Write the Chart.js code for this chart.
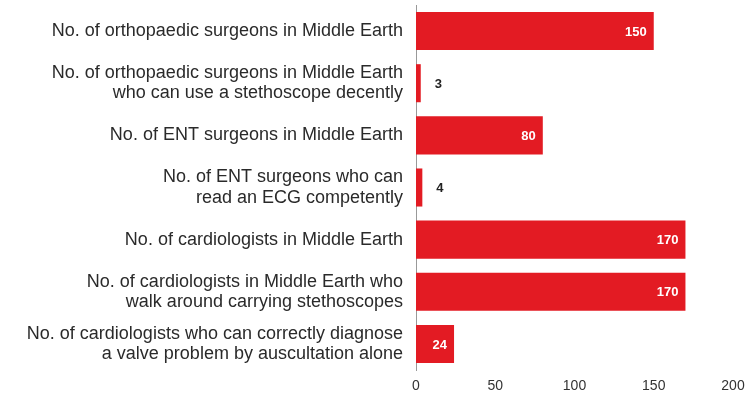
<!DOCTYPE html>
<html>
<head>
<meta charset="utf-8">
<script src="https://cdn.jsdelivr.net/npm/chart.js@4"></script>
<style>
  html, body { margin: 0; padding: 0; background: #fff; }
  #wrap { width: 755px; height: 401px; }
</style>
</head>
<body>
<div id="wrap"><canvas id="barChart"></canvas></div>
<script>
const categories = [
  "No. of orthopaedic surgeons in Middle Earth",
  ["No. of orthopaedic surgeons in Middle Earth", "who can use a stethoscope decently"],
  "No. of ENT surgeons in Middle Earth",
  ["No. of ENT surgeons who can", "read an ECG competently"],
  "No. of cardiologists in Middle Earth",
  ["No. of cardiologists in Middle Earth who", "walk around carrying stethoscopes"],
  ["No. of cardiologists who can correctly diagnose", "a valve problem by auscultation alone"]
];
const counts = [150, 3, 80, 4, 170, 170, 24];
const xTicks = [0, 50, 100, 150, 200];

// value labels: white inside long bars, dark outside tiny ones
const valueLabels = {
  id: "valueLabels",
  afterDatasetsDraw(chart) {
    const ctx = chart.ctx;
    const meta = chart.getDatasetMeta(0);
    ctx.save();
    ctx.font = "bold 13px Arial, 'Liberation Sans', sans-serif";
    ctx.textBaseline = "middle";
    meta.data.forEach((bar, i) => {
      const v = counts[i];
      if (v >= 10) {
        ctx.fillStyle = "#fff";
        ctx.textAlign = "right";
        ctx.fillText(v, bar.x - 7, bar.y + 1);
      } else {
        ctx.fillStyle = "#222";
        ctx.textAlign = "left";
        ctx.fillText(v, bar.x + 14, bar.y + 1);
      }
    });
    ctx.restore();
  }
};

new Chart(document.getElementById("barChart"), {
  type: "bar",
  data: {
    labels: categories,
    datasets: [{
      data: counts,
      backgroundColor: "#e31b23",
      barPercentage: 0.73,
      categoryPercentage: 1
    }]
  },
  options: {
    indexAxis: "y",
    responsive: true,
    maintainAspectRatio: false,
    animation: false,
    layout: { padding: { top: 5, right: 22, bottom: 0, left: 0 } },
    plugins: {
      legend: { display: false },
      tooltip: { enabled: false }
    },
    scales: {
      x: {
        min: 0,
        max: 200,
        afterBuildTicks: (axis) => { axis.ticks = xTicks.map(v => ({ value: v })); },
        afterFit: (axis) => {
          axis.height = 31;
          axis.paddingLeft = 0;
          axis.paddingRight = 0;
        },
        grid: { display: false },
        border: { display: false },
        ticks: {
          color: "#333",
          padding: 0,
          font: { family: "Arial, 'Liberation Sans', sans-serif", size: 14 }
        }
      },
      y: {
        afterFit: (axis) => {
          axis.width = 416;
          axis.paddingTop = 0;
          axis.paddingBottom = 0;
        },
        grid: { display: false },
        border: { display: true, color: "#999", width: 1 },
        ticks: {
          color: "#2a2a2a",
          padding: 5,
          font: { family: "Arial, 'Liberation Sans', sans-serif", size: 18, lineHeight: 1.12 }
        }
      }
    }
  },
  plugins: [valueLabels]
});
</script>
</body>
</html>
